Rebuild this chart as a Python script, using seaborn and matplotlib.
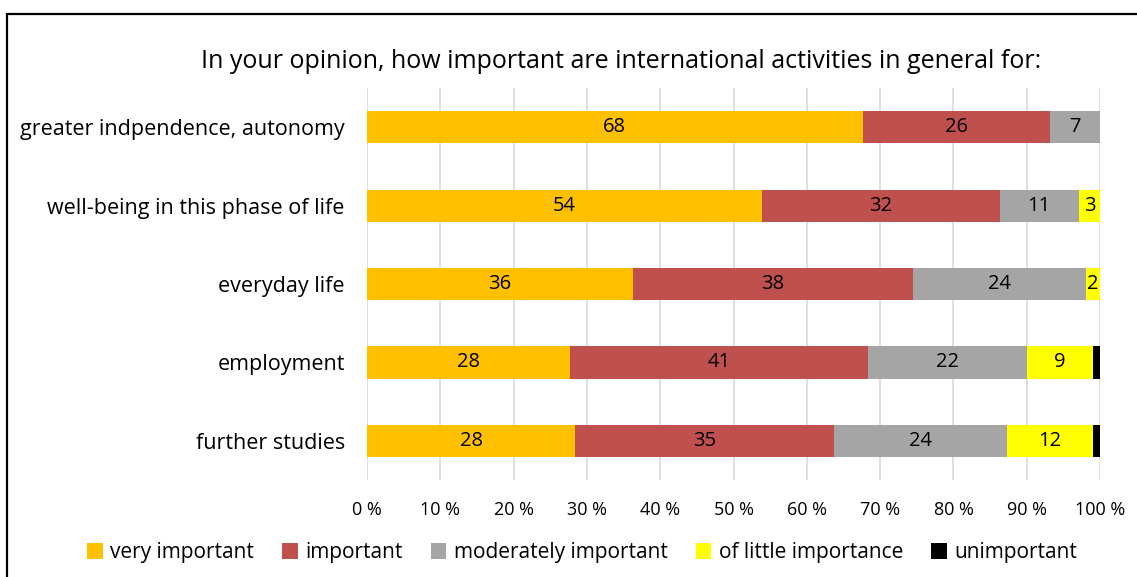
import numpy as np
import pandas as pd
import matplotlib
matplotlib.use('Agg')
import matplotlib.pyplot as plt
import seaborn as sns

# Data (percent of respondents)
categories = ['greater indpendence, autonomy', 'well-being in this phase of life',
              'everyday life', 'employment', 'further studies']
levels = ['very important', 'important', 'moderately important',
          'of little importance', 'unimportant']
very_important = [67.6, 53.9, 36.3, 27.7, 28.4]
important = [25.6, 32.4, 38.2, 40.6, 35.3]
moderately_important = [6.8, 10.8, 23.6, 21.8, 23.6]
little_importance = [0.0, 2.9, 1.9, 8.9, 11.8]
unimportant = [0.0, 0.0, 0.0, 1.0, 0.9]
colors = ['#FFC000', '#C0504D', '#A5A5A5', '#FFFF00', '#000000']

series = [very_important, important, moderately_important, little_importance, unimportant]

sns.set_theme(style='white')
plt.rcParams['font.family'] = ['Open Sans', 'DejaVu Sans']
plt.rcParams['text.color'] = 'black'
plt.rcParams['xtick.color'] = 'black'
plt.rcParams['ytick.color'] = 'black'

fig = plt.figure(figsize=(11.37, 5.77), dpi=100)
ax = fig.add_axes([0.3228, 0.168, 0.6447, 0.6795])

left = np.zeros(len(categories))
for name, vals, col in zip(levels, series, colors):
    df = pd.DataFrame({'category': categories, 'value': vals})
    sns.barplot(data=df, x='value', y='category', order=categories, orient='h',
                color=col, left=left, width=0.41, saturation=1, ax=ax, label=name,
                linewidth=0)
    cont = ax.containers[-1]
    labs = [f'{v:.0f}' if v >= 1.5 else '' for v in vals]
    ax.bar_label(cont, labels=labs, label_type='center', fontsize=14.5, color='black')
    left = left + np.array(vals)

ax.set_xlim(0, 100)
ax.set_ylim(4.5, -0.5)
ax.set_xticks(np.arange(0, 101, 10))
ax.set_xticklabels([f'{t} %' for t in range(0, 101, 10)], fontsize=13)
ax.tick_params(axis='y', labelsize=15.5, length=0, pad=16, labelcolor='black')
ax.tick_params(axis='x', length=0, pad=15, labelcolor='black')
ax.set_xlabel('')
ax.set_ylabel('')
ax.xaxis.grid(True, color='#D9D9D9', linewidth=1.2)
ax.set_axisbelow(True)
for s in ax.spines.values():
    s.set_visible(False)

fig.text(0.546, 0.893, 'In your opinion, how important are international activities in general for:',
         ha='center', va='center', fontsize=18, color='black')

handles, labels = ax.get_legend_handles_labels()
ax.legend(handles, labels, loc='center', bbox_to_anchor=(0.512, 0.042),
          bbox_transform=fig.transFigure, ncol=5, frameon=False, fontsize=15,
          handlelength=0.75, handleheight=0.75, handletextpad=0.35, columnspacing=1.35)

# outer frame of the chart area
fig.add_artist(plt.Rectangle((7 / 1137, -0.05), 1.2, 1 - 14 / 577 + 0.05,
                             transform=fig.transFigure, fill=False,
                             edgecolor='black', linewidth=1.6))

fig.savefig('out.png', dpi=100)
